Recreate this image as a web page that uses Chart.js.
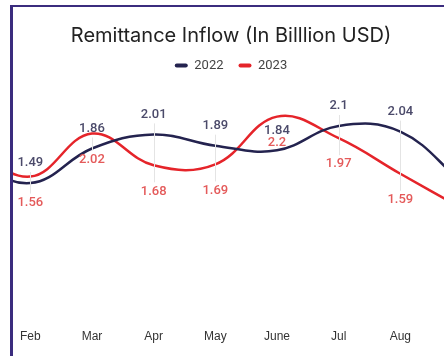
<!DOCTYPE html>
<html>
<head>
<meta charset="utf-8">
<script src="https://cdn.jsdelivr.net/npm/chart.js@4.4.0/dist/chart.umd.min.js"></script>
<style>
  html, body { margin: 0; padding: 0; background: #fff; overflow: hidden; }
  body { width: 444px; height: 356px; position: relative; }
  #frame {
    position: absolute; left: 10px; top: 5px; width: 600px; height: 400px;
    border-left: 3px solid #3b2c7e; border-top: 2px solid #3b2c7e;
    overflow: hidden; background: #fff;
  }
  #wrap { position: absolute; left: -61px; top: -7px; width: 558px; height: 356px; }
</style>
</head>
<body>
<div id="frame"><div id="wrap"><canvas id="chart"></canvas></div></div>
<script>
// months around the visible window (Jan and Sep sit just outside the crop)
const months = ['Jan', 'Feb', 'Mar', 'Apr', 'May', 'June', 'Jul', 'Aug', 'Sep'];
const inflow2022 = [1.75, 1.49, 1.86, 2.01, 1.89, 1.84, 2.1, 2.04, 1.5];
const inflow2023 = [1.9, 1.56, 2.02, 1.68, 1.69, 2.2, 1.97, 1.59, 1.22];

const navy = '#24234f';
const red = '#e5242a';

// value labels: 2022 above the line, 2023 below, with a faint drop line between
const valueLabels = {
    id: 'valueLabels',
    afterDatasetsDraw(chart) {
        const ctx = chart.ctx;
        const top = chart.getDatasetMeta(0).data;
        const bottom = chart.getDatasetMeta(1).data;
        ctx.save();
        ctx.strokeStyle = '#e4e4e4';
        ctx.lineWidth = 1;
        top.forEach((p, i) => {
            const q = bottom[i];
            const y1 = p.y - 20 + 9;
            const y2 = q.y + 26 - 9;
            if (y2 > y1) {
                ctx.beginPath();
                ctx.moveTo(Math.round(p.x) + 0.5, y1);
                ctx.lineTo(Math.round(p.x) + 0.5, y2);
                ctx.stroke();
            }
        });
        ctx.font = '500 13px Roboto';
        ctx.textAlign = 'center';
        ctx.textBaseline = 'middle';
        top.forEach((p, i) => {
            ctx.fillStyle = '#4b4a6a';
            ctx.fillText(String(inflow2022[i]), p.x, p.y - 20);
        });
        bottom.forEach((p, i) => {
            ctx.fillStyle = '#e45a5a';
            ctx.fillText(String(inflow2023[i]), p.x, p.y + 26);
        });
        ctx.restore();
    }
};

new Chart(document.getElementById('chart'), {
    type: 'line',
    data: {
        labels: months,
        datasets: [{
            label: '2022',
            data: inflow2022,
            borderColor: navy,
            backgroundColor: navy,
            borderWidth: 2.5,
            tension: 0.4,
            pointRadius: 0,
            yAxisID: 'y'
        }, {
            label: '2023',
            data: inflow2023,
            borderColor: red,
            backgroundColor: red,
            borderWidth: 2.5,
            tension: 0.4,
            pointRadius: 0,
            yAxisID: 'y'
        }]
    },
    options: {
        responsive: true,
        maintainAspectRatio: false,
        animation: false,
        layout: { padding: { top: 0, bottom: 5, left: 0, right: 0 } },
        plugins: {
            title: {
                display: true,
                text: 'Remittance Inflow (In Billlion USD)',
                color: '#222',
                font: { family: 'Inter', size: 20, weight: '400', lineHeight: 0.8 },
                padding: { top: 28, bottom: 0 }
            },
            legend: {
                display: true,
                labels: {
                    boxWidth: 13,
                    boxHeight: 4,
                    padding: 15,
                    color: '#444',
                    font: { family: 'Roboto', size: 13 },
                    useBorderRadius: true,
                    borderRadius: 2,
                    generateLabels: chart => Chart.defaults.plugins.legend.labels.generateLabels(chart)
                        .map(l => ({ ...l, lineWidth: 0 }))
                }
            },
            tooltip: { enabled: false }
        },
        scales: {
            x: {
                offset: false,
                grid: { display: false, drawTicks: false },
                border: { display: false },
                ticks: {
                    color: '#333',
                    padding: 7,
                    maxRotation: 0,
                    autoSkip: false,
                    font: { family: 'Liberation Sans', size: 12 }
                }
            },
            y: {
                position: 'left',
                min: 0,
                max: 2.57,
                grid: { display: false, drawTicks: false },
                border: { display: false },
                ticks: { display: false },
                afterFit: s => { s.width = 12; }
            },
            y2: {
                position: 'right',
                grid: { display: false, drawTicks: false },
                border: { display: false },
                ticks: { display: false },
                afterFit: s => { s.width = 48; }
            }
        }
    },
    plugins: [valueLabels]
});
</script>
</body>
</html>
